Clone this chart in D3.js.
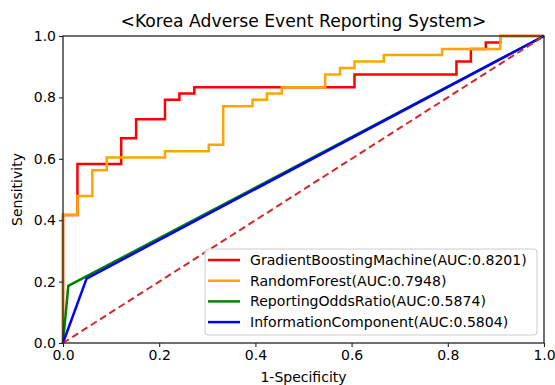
<!DOCTYPE html>
<html><head><meta charset="utf-8">
<script src="https://cdn.jsdelivr.net/npm/d3@7"></script>
<style>body{margin:0;background:#fff}svg{display:block}text{font-family:"DejaVu Sans",sans-serif}</style>
</head><body><div id="chart"></div>
<script>
const seriesNames = ["GradientBoostingMachine(AUC:0.8201)","RandomForest(AUC:0.7948)","ReportingOddsRatio(AUC:0.5874)","InformationComponent(AUC:0.5804)"];
const seriesColors = ["#ff0000","#ffa500","#008000","#0000ff"];
// ROC points [fpr, tpr] (step curves given as corners)
const gbmFpr = [0,0,0.030,0.030,0.121,0.121,0.152,0.152,0.212,0.212,0.242,0.242,0.273,0.273,0.606,0.606,0.818,0.818,0.848,0.848,0.879,0.879,0.909,0.909,1.0];
const gbmTpr = [0,0.417,0.417,0.583,0.583,0.667,0.667,0.729,0.729,0.792,0.792,0.813,0.813,0.833,0.833,0.875,0.875,0.917,0.917,0.958,0.958,0.979,0.979,1.0,1.0];
const rfFpr = [0,0,0.030,0.030,0.061,0.061,0.091,0.091,0.212,0.212,0.303,0.303,0.333,0.333,0.394,0.394,0.424,0.424,0.455,0.455,0.545,0.545,0.576,0.576,0.606,0.606,0.667,0.667,0.788,0.788,0.909,0.909,1.0];
const rfTpr = [0,0.417,0.417,0.479,0.479,0.563,0.563,0.604,0.604,0.625,0.625,0.646,0.646,0.771,0.771,0.792,0.792,0.813,0.813,0.833,0.833,0.875,0.875,0.896,0.896,0.917,0.917,0.938,0.938,0.958,0.958,1.0,1.0];
const rorFpr = [0,0.011,1.0];
const rorTpr = [0,0.186,1.0];
const icFpr = [0,0.049,1.0];
const icTpr = [0,0.210,1.0];
const xTicks = [0,0.2,0.4,0.6,0.8,1.0];
const yTicks = [0,0.2,0.4,0.6,0.8,1.0];
const titleText = "<Korea Adverse Event Reporting System>";
const xLabel = "1-Specificity";
const yLabel = "Sensitivity";

const W = 555, H = 385;
const m = {l:63, r:11, t:36, b:42};
const svg = d3.select("#chart").append("svg").attr("width",W).attr("height",H);
const x = d3.scaleLinear().domain([0,1]).range([m.l, W-m.r]);
const y = d3.scaleLinear().domain([0,1]).range([H-m.b, m.t]);

const line = d3.line().x(d=>x(d[0])).y(d=>y(d[1]));
const series = [[gbmFpr,gbmTpr],[rfFpr,rfTpr],[rorFpr,rorTpr],[icFpr,icTpr]].map(([a,b])=>a.map((v,i)=>[v,b[i]]));

const g = svg.append("g");
series.forEach((s,i)=>{
  g.append("path").attr("d",line(s)).attr("fill","none").attr("stroke",seriesColors[i]).attr("stroke-width",2.5);
});
g.append("path").attr("d",line([[0,0],[1,1]])).attr("fill","none").attr("stroke","#d62728")
  .attr("stroke-width",2).attr("stroke-dasharray","7,4");

// frame
svg.append("rect").attr("x",x(0)).attr("y",y(1)).attr("width",x(1)-x(0)).attr("height",y(0)-y(1))
  .attr("fill","none").attr("stroke","#222").attr("stroke-width",1.3);

const xa = svg.append("g").attr("transform",`translate(0,${y(0)})`)
  .call(d3.axisBottom(x).tickValues(xTicks).tickFormat(d3.format(".1f")).tickSize(4).tickPadding(3));
const ya = svg.append("g").attr("transform",`translate(${x(0)},0)`)
  .call(d3.axisLeft(y).tickValues(yTicks).tickFormat(d3.format(".1f")).tickSize(4).tickPadding(3));
[xa,ya].forEach(a=>{a.select(".domain").remove();a.selectAll("text").attr("font-size",14).attr("fill","#000").style("font-family","DejaVu Sans");a.selectAll("line").attr("stroke","#222").attr("stroke-width",1.1);});

svg.append("text").attr("x",(x(0)+x(1))/2).attr("y",27).attr("text-anchor","middle").attr("font-size",17.2).text(titleText);
svg.append("text").attr("x",(x(0)+x(1))/2).attr("y",382).attr("text-anchor","middle").attr("font-size",14).text(xLabel);
svg.append("text").attr("transform",`translate(22,${(y(0)+y(1))/2}) rotate(-90)`).attr("text-anchor","middle").attr("font-size",14).text(yLabel);

// legend
const lg = svg.append("g");
lg.append("rect").attr("x",205).attr("y",249).attr("width",332).attr("height",86).attr("rx",3)
  .attr("fill","#fff").attr("fill-opacity",0.85).attr("stroke","#ccc");
seriesNames.forEach((n,i)=>{
  const yy = 260 + i*20.7;
  lg.append("line").attr("x1",208).attr("x2",240).attr("y1",yy).attr("y2",yy).attr("stroke",seriesColors[i]).attr("stroke-width",2.5);
  lg.append("text").attr("x",250).attr("y",yy+5).attr("font-size",14.1).text(n);
});
</script></body></html>
